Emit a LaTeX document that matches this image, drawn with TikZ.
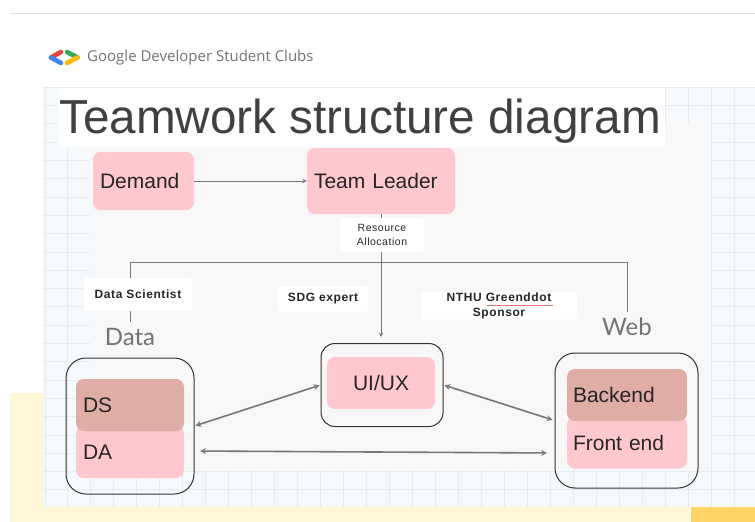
\documentclass[tikz,border=0pt]{standalone}
\usepackage{fontspec}
\setmainfont{Liberation Sans}
\newfontfamily\logofont{Open Sans}
\newfontfamily\thinfont{Lato}
\newfontfamily\tagfont[LetterSpace=5]{Liberation Sans}
\definecolor{boxpink}{HTML}{FFC7CE}
\definecolor{boxrose}{HTML}{E0ADA6}
\definecolor{panelgray}{HTML}{F7F7F7}
\definecolor{panelblue}{HTML}{F6F9FC}
\definecolor{gridblue}{HTML}{E6EAF1}
\definecolor{sandlight}{HTML}{FFF7D6}
\definecolor{sanddark}{HTML}{FFD466}
\definecolor{linegray}{HTML}{777777}
\definecolor{spellred}{HTML}{E57373}
\definecolor{logored}{HTML}{EA4335}
\definecolor{logoblue}{HTML}{4285F4}
\definecolor{logogreen}{HTML}{34A853}
\definecolor{logoyellow}{HTML}{FBBC04}
\tikzset{
  pinkbox/.style={fill=boxpink,rounded corners=8pt,inner sep=7pt,align=left,text=black!85,font=\fontsize{21}{25}\selectfont},
  rosebox/.style={pinkbox,fill=boxrose},
  groupbox/.style={draw=black!80,line width=1pt,rounded corners=20pt},
  taglabel/.style={fill=white,rounded corners=2pt,align=center,inner sep=0pt,text=black!85,font=\tagfont\bfseries\fontsize{12}{15}\selectfont},
  grouptitle/.style={text=black!55,inner sep=0pt,font=\thinfont\fontsize{24}{28}\selectfont},
  link/.style={draw=linegray,line width=1pt},
  twoway/.style={draw=linegray,line width=1.6pt,stealth-stealth},
  logostroke/.style={line width=4.6pt,line cap=round}
}
\begin{document}
\begin{tikzpicture}[x=1pt,y=-1pt]
  \useasboundingbox (0,0) rectangle (755,522);
  \fill[white] (0,0) rectangle (755,522);
  \draw[black!12,line width=1pt] (10,13) -- (755,13);
  % sand strip and panel
  \fill[sandlight] (10,393) rectangle (690,522);
  \fill[sanddark] (691,507) rectangle (755,522);
  \fill[panelblue] (43,87) rectangle (755,507);
  \foreach \x in {45,67,90,...,740} \draw[gridblue,thin] (\x,87) -- (\x,507);
  \foreach \y in {87,105.3,...,507} \draw[gridblue,thin] (43,\y) -- (755,\y);
  \fill[panelgray] (90,123) rectangle (710,470);
  % logo
  \draw[logostroke,logored] (61,52) -- (51,57.5);
  \draw[logostroke,logoblue] (51,57.5) -- (61,63);
  \draw[logostroke,logogreen] (67,52) -- (77.5,57.5);
  \draw[logostroke,logoyellow] (77.5,57.5) -- (67,63);
  \node[anchor=west,inner sep=0pt,text=black!55,font=\logofont\fontsize{15}{18}\selectfont] (brand) at (87,58) {Google Developer Student Clubs};
  \fill[white] (58,88) rectangle (665,147);
  \node[inner sep=0pt,text=black!75,font=\fontsize{47.7}{50}\selectfont] (title) at (360,121) {Teamwork structure diagram};

  \node[pinkbox,text width=87pt,minimum height=58pt] (demand) at (143.5,181) {Demand};
  \node[pinkbox,text width=134pt,minimum height=66pt] (leader) at (381,181) {Team Leader};

  \node[groupbox,minimum width=128pt,minimum height=136pt] (datagroup) at (130,426) {};
  \node[pinkbox,text width=94pt,minimum height=52pt] (da) at (130,452) {DA};
  \node[rosebox,text width=94pt,minimum height=52pt] (ds) at (130,405) {DS};
  \node[groupbox,rounded corners=14pt,minimum width=122pt,minimum height=83pt] (uigroup) at (382,385) {};
  \node[pinkbox,align=center,text width=94pt,minimum height=52pt] (uiux) at (381,383) {UI/UX};
  \node[groupbox,minimum width=143pt,minimum height=135pt] (webgroup) at (626.5,420.5) {};
  \node[pinkbox,inner sep=6pt,text width=108pt,minimum height=52pt] (frontend) at (627,442.5) {Front end};
  \node[rosebox,inner sep=6pt,text width=108pt,minimum height=52pt] (backend) at (627,395) {Backend};

  \node[grouptitle] (datatitle) at (130,337) {Data};
  \node[grouptitle] (webtitle) at (627,327) {Web};

  \coordinate (split) at (381,262);
  \coordinate (daport) at (194,451);
  \coordinate (webport) at (555,453);
  \draw[link,-stealth] (demand) -- (leader);
  \draw[link,-stealth,shorten >=6pt] (leader) -- (uigroup.north -| leader);
  \draw[link,shorten >=6pt] (split) -| (datatitle.north);
  \draw[link,shorten >=6pt] (split) -| (webtitle.north);
  \draw[twoway,shorten <=1pt,shorten >=1pt] (uigroup.west) -- (datagroup.east);
  \draw[twoway,shorten <=1pt,shorten >=2pt] (uigroup.east) -- (webgroup.west);
  \draw[twoway,shorten <=6pt,shorten >=8pt] (daport) -- (webport);

  \node[taglabel,minimum width=84pt,minimum height=34pt,font=\tagfont\fontsize{10.5}{14}\selectfont] (resource) at (382,235) {Resource\\Allocation};
  \node[taglabel,minimum width=108pt,minimum height=33pt] (scientist) at (138,294.5) {Data Scientist};
  \node[taglabel,minimum width=90pt,minimum height=26pt] (expert) at (323,299) {SDG expert};
  \node[taglabel,minimum width=156pt,minimum height=28pt] (sponsor) at (499,305.5) {NTHU Greenddot\\Sponsor};
  \draw[spellred,thin] (487,305) -- (553,305);
\end{tikzpicture}
\end{document}
